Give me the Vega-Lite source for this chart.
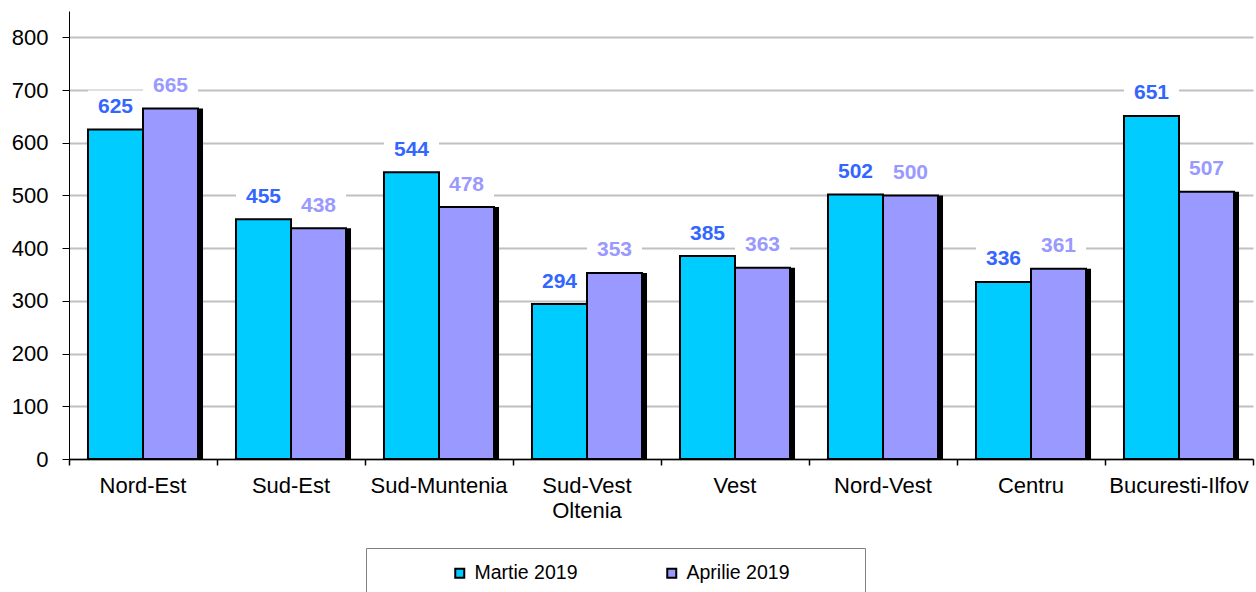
{
  "$schema": "https://vega.github.io/schema/vega-lite/v6.json",
  "autosize": {"type": "none"},
  "padding": {"left": 69, "top": 11, "right": 3, "bottom": 133},
  "width": 1184,
  "height": 448,
  "config": {"view": {"stroke": null}, "font": "Liberation Sans"},
  "data": {
    "values": [
      {"region": "Nord-Est", "series": "Martie 2019", "value": 625},
      {"region": "Nord-Est", "series": "Aprilie 2019", "value": 665},
      {"region": "Sud-Est", "series": "Martie 2019", "value": 455},
      {"region": "Sud-Est", "series": "Aprilie 2019", "value": 438},
      {"region": "Sud-Muntenia", "series": "Martie 2019", "value": 544},
      {"region": "Sud-Muntenia", "series": "Aprilie 2019", "value": 478},
      {"region": "Sud-Vest Oltenia", "series": "Martie 2019", "value": 294},
      {"region": "Sud-Vest Oltenia", "series": "Aprilie 2019", "value": 353},
      {"region": "Vest", "series": "Martie 2019", "value": 385},
      {"region": "Vest", "series": "Aprilie 2019", "value": 363},
      {"region": "Nord-Vest", "series": "Martie 2019", "value": 502},
      {"region": "Nord-Vest", "series": "Aprilie 2019", "value": 500},
      {"region": "Centru", "series": "Martie 2019", "value": 336},
      {"region": "Centru", "series": "Aprilie 2019", "value": 361},
      {"region": "Bucuresti-Ilfov", "series": "Martie 2019", "value": 651},
      {"region": "Bucuresti-Ilfov", "series": "Aprilie 2019", "value": 507}
    ]
  },
  "encoding": {
    "x": {
      "field": "region",
      "type": "nominal",
      "sort": ["Nord-Est", "Sud-Est", "Sud-Muntenia", "Sud-Vest Oltenia", "Vest", "Nord-Vest", "Centru", "Bucuresti-Ilfov"],
      "scale": {"paddingInner": 0, "paddingOuter": 0},
      "axis": {
        "title": null,
        "grid": false,
        "domainColor": "black",
        "domainWidth": 1.5,
        "tickColor": "black",
        "tickSize": 6,
        "tickWidth": 1.5,
        "bandPosition": 1,
        "tickExtra": true,
        "labelAngle": 0,
        "labelFontSize": 22,
        "labelColor": "black",
        "labelPadding": 10,
        "labelLineHeight": 25,
        "labelExpr": "datum.value == 'Sud-Vest Oltenia' ? ['Sud-Vest', 'Oltenia'] : datum.label"
      }
    },
    "xOffset": {
      "field": "series",
      "type": "nominal",
      "scale": {"type": "band", "domain": ["Martie 2019", "Aprilie 2019"], "paddingInner": 0, "paddingOuter": 0.345}
    },
    "y": {
      "field": "value",
      "type": "quantitative",
      "scale": {"domain": [0, 850], "nice": false},
      "axis": {
        "title": null,
        "values": [0, 100, 200, 300, 400, 500, 600, 700, 800],
        "domainColor": "black",
        "domainWidth": 1,
        "tickColor": "black",
        "tickSize": 7,
        "labelFontSize": 22,
        "labelColor": "black",
        "labelPadding": 14,
        "grid": true,
        "gridColor": "#C0C0C0",
        "gridWidth": 2
      }
    }
  },
  "resolve": {"scale": {"xOffset": "independent"}},
  "layer": [
    {
      "mark": {"type": "point", "shape": "M-1,-0.55H1V0.55H-1Z", "size": 3025, "filled": true, "color": "white", "fill": "white", "opacity": 1, "strokeWidth": 0, "yOffset": -24}
    },
    {
      "transform": [{"filter": "datum.series == 'Aprilie 2019'"}],
      "mark": {"type": "bar", "color": "black", "y2Offset": 4},
      "encoding": {
        "xOffset": {
          "field": "series",
          "type": "nominal",
          "scale": {"type": "band", "domain": ["Martie 2019", "Aprilie 2019"], "range": [5, 153], "paddingInner": 0, "paddingOuter": 0.345}
        }
      }
    },
    {
      "mark": {"type": "bar", "stroke": "black", "strokeWidth": 2},
      "encoding": {
        "color": {
          "field": "series",
          "type": "nominal",
          "scale": {"domain": ["Martie 2019", "Aprilie 2019"], "range": ["#00CCFF", "#9999FF"]},
          "legend": {
            "orient": "none",
            "legendX": 297,
            "legendY": 537,
            "direction": "horizontal",
            "title": "MMMM",
            "titleOrient": "right",
            "titleColor": "white",
            "titleFontSize": 18,
            "titlePadding": 1,
            "strokeColor": "#808080",
            "fillColor": "white",
            "padding": 15,
            "symbolType": "square",
            "symbolSize": 81,
            "symbolStrokeColor": "black",
            "symbolStrokeWidth": 2,
            "symbolOpacity": 1,
            "symbolOffset": 69,
            "labelFontSize": 19.5,
            "labelColor": "black",
            "labelOffset": 5,
            "columnPadding": 15
          }
        }
      }
    },
    {
      "mark": {"type": "text", "fontSize": 21, "fontWeight": "bold", "baseline": "alphabetic", "align": "center", "dy": -16.5},
      "encoding": {
        "text": {"field": "value", "type": "quantitative"},
        "color": {"condition": {"test": "datum.series == 'Martie 2019'", "value": "#3366FF"}, "value": "#9999FF"}
      }
    }
  ]
}
